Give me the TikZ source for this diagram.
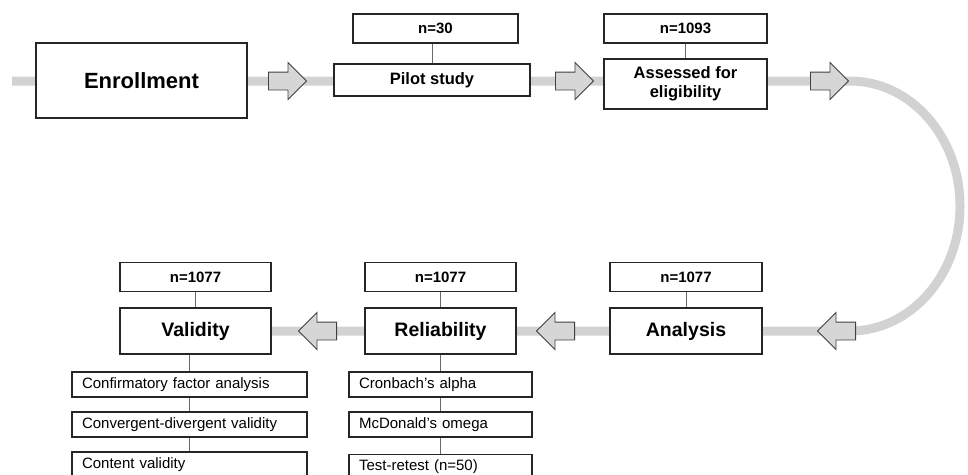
\documentclass[tikz,border=0pt]{standalone}
\usepackage{fontspec}
\setmainfont{Liberation Sans}
\usetikzlibrary{shapes.arrows,backgrounds}
\definecolor{bandgray}{RGB}{210,210,210}
\definecolor{arrowgray}{RGB}{214,214,214}
\definecolor{edgegray}{RGB}{64,64,64}
\definecolor{linkgray}{RGB}{105,105,105}

\begin{document}
\begin{tikzpicture}[x=1pt,y=-1pt,line join=miter,
  box/.style={draw=black!85,fill=white,line width=1.1pt,inner sep=0pt,align=center},
  countbox/.style={box,font=\fontsize{15}{18}\selectfont\bfseries,minimum height=29pt},
  phasebox/.style={box,font=\fontsize{16.5}{19}\selectfont\bfseries},
  stagebox/.style={box,font=\fontsize{19.5}{23}\selectfont\bfseries,minimum height=46pt,minimum width=151pt},
  itembox/.style={box,font=\fontsize{15}{18}\selectfont,minimum height=25pt,inner xsep=10pt,text width=#1,align=left},
  flowarrow/.style={single arrow,draw=edgegray,fill=arrowgray,line width=0.9pt,minimum height=38pt,single arrow head extend=9.5pt,inner xsep=0pt,inner ysep=8.5pt,anchor=tail},
  link/.style={draw=linkgray,line width=0.9pt},
  band/.style={draw=bandgray,line width=9pt}]
\useasboundingbox (0,0) rectangle (968,474);
% top row
\node[box,line width=1.8pt,minimum width=211pt,minimum height=75pt,font=\fontsize{22}{26}\selectfont\bfseries] (enroll) at (141.5,80.5) {Enrollment};
\node[phasebox,minimum width=196pt,minimum height=32pt] (pilot) at (432,80) {Pilot study};
\node[countbox,minimum width=165pt] (pilotn) at (435.5,28.5) {n=30};
\node[phasebox,minimum width=163pt,minimum height=50pt] (assess) at (685.5,84) {Assessed for\\eligibility};
\node[countbox,minimum width=163pt] (assessn) at (685.5,28.5) {n=1093};
% bottom row
\node[stagebox,minimum width=152pt] (analysis) at (686,331) {Analysis};
\node[countbox,minimum width=152pt] (analysisn) at (686,277) {n=1077};
\node[stagebox] (reliab) at (440.5,331) {Reliability};
\node[countbox,minimum width=151pt] (reliabn) at (440.5,277) {n=1077};
\node[stagebox] (valid) at (195.5,331) {Validity};
\node[countbox,minimum width=151pt] (validn) at (195.5,277) {n=1077};
% methods under each stage
\node[itembox=215pt] (cfa) at (189.5,384.5) {Confirmatory factor analysis};
\node[itembox=215pt] (conv) at (189.5,424.5) {Convergent-divergent validity};
\node[itembox=215pt] (content) at (189.5,464.5) {Content validity};
\node[itembox=163pt] (alpha) at (440.5,384.5) {Cronbach’s alpha};
\node[itembox=163pt] (omega) at (440.5,424.5) {McDonald’s omega};
\node[itembox=163pt] (retest) at (440.5,467) {Test-retest (n=50)};
% links
\draw[link] (pilotn.south -| pilot.north) -- (pilot.north);
\draw[link] (assessn) -- (assess);
\draw[link] (analysisn) -- (analysis);
\draw[link] (reliabn) -- (reliab) -- (alpha) -- (omega) -- (retest);
\draw[link] (validn) -- (valid);
\draw[link] (cfa.north |- valid.south) -- (cfa) -- (conv) -- (content);
% arrows on the band
\node[flowarrow] (a1) at (268,81) {};
\node[flowarrow] (a2) at (555,81) {};
\node[flowarrow] (a3) at (810,81) {};
\node[flowarrow,shape border rotate=180] (a4) at (856,331) {};
\node[flowarrow,shape border rotate=180] (a5) at (575,331) {};
\node[flowarrow,shape border rotate=180] (a6) at (337,331) {};
\begin{scope}[on background layer]
\coordinate (bandstart) at (12,81);
\coordinate (turntop) at (850,81);
\draw[band] (bandstart) -- (turntop) arc[start angle=-90,end angle=90,x radius=110,y radius=125] -- (valid.east);
\end{scope}
\end{tikzpicture}
\end{document}
